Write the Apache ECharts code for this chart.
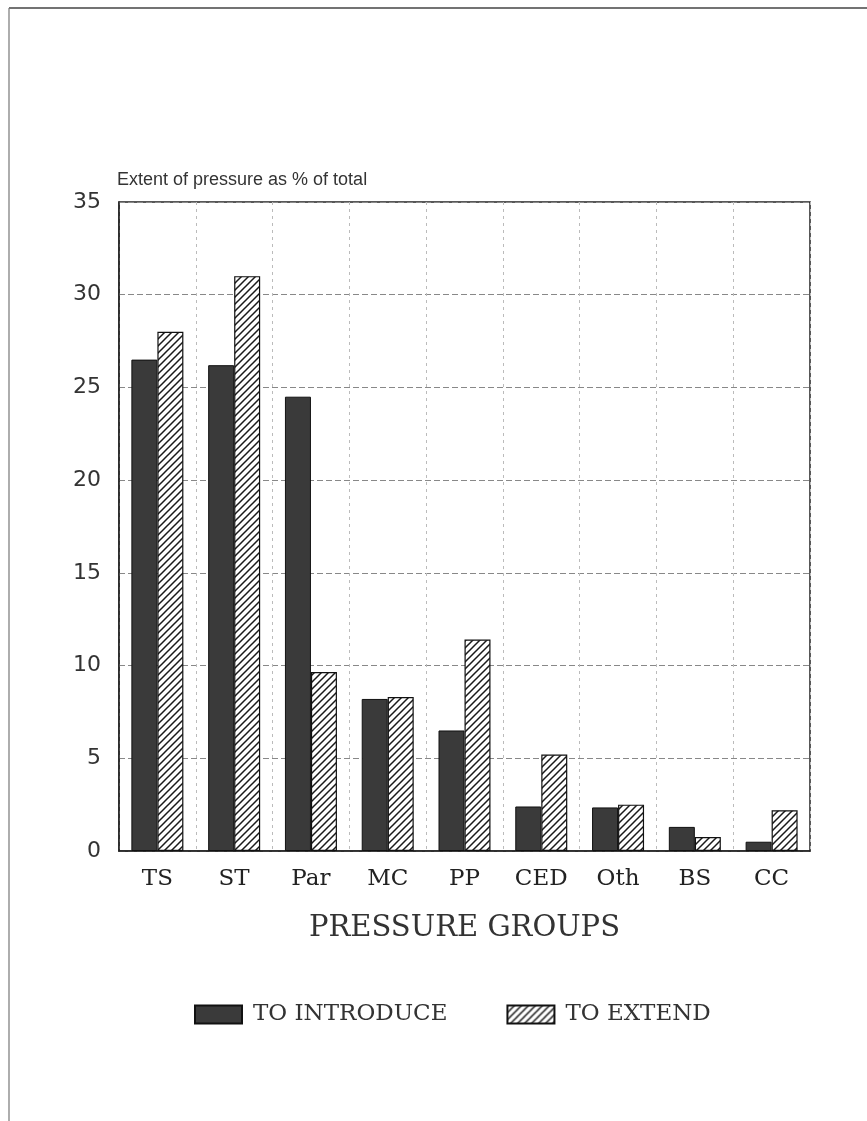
<!DOCTYPE html>
<html>
<head>
<meta charset="utf-8">
<script src="https://cdn.jsdelivr.net/npm/echarts@6/dist/echarts.min.js"></script>
<style>
html,body{margin:0;padding:0;background:#fff;}
#chart{width:867px;height:1121px;}
</style>
</head>
<body>
<div id="chart"></div>
<script>
const categories = ['TS', 'ST', 'Par', 'MC', 'PP', 'CED', 'Oth', 'BS', 'CC'];
const toIntroduce = [26.5, 26.2, 24.5, 8.2, 6.5, 2.4, 2.35, 1.3, 0.5];
const toExtend = [28.0, 31.0, 9.65, 8.3, 11.4, 5.2, 2.5, 0.75, 2.2];
const seriesNames = ['TO INTRODUCE', 'TO EXTEND'];
const yTitle = 'Extent of pressure as % of total';
const xTitle = 'PRESSURE GROUPS';

function hatch() {
  const s = 7;
  const c = document.createElement('canvas');
  c.width = s; c.height = s;
  const g = c.getContext('2d');
  g.fillStyle = '#fff';
  g.fillRect(0, 0, s, s);
  g.strokeStyle = '#1a1a1a';
  g.lineWidth = 1.5;
  g.beginPath();
  g.moveTo(-1, s + 1); g.lineTo(s + 1, -1);
  g.moveTo(-1, 1); g.lineTo(1, -1);
  g.moveTo(s - 1, s + 1); g.lineTo(s + 1, s - 1);
  g.stroke();
  return c;
}

const chart = echarts.init(document.getElementById('chart'), null, {renderer: 'canvas'});
const serif = 'DejaVu Serif';
chart.setOption({
  animation: false,
  backgroundColor: '#fff',
  grid: {left: 119, top: 202, right: 57, bottom: 270, show: true, borderColor: '#222', borderWidth: 1.5, backgroundColor: 'transparent'},
  graphic: [
    {type: 'line', shape: {x1: 9, y1: 8, x2: 867, y2: 8}, style: {stroke: '#444', lineWidth: 1.5}},
    {type: 'line', shape: {x1: 9, y1: 8, x2: 9, y2: 1121}, style: {stroke: '#777', lineWidth: 1.2}},
    {type: 'text', left: 117, top: 171, style: {text: yTitle, font: '18px "Liberation Sans"', fill: '#333'}}
  ],
  legend: {
    left: 189, top: 998, itemWidth: 47, itemHeight: 18, itemGap: 59,
    icon: 'rect',
    textStyle: {fontFamily: serif, fontSize: 23, color: '#333', padding: [0, 0, 0, 6]},
    data: seriesNames
  },
  xAxis: {
    type: 'category',
    data: categories,
    name: xTitle,
    nameLocation: 'middle',
    nameGap: 63,
    nameTextStyle: {fontFamily: serif, fontSize: 29, color: '#333'},
    axisLine: {lineStyle: {color: '#222', width: 1.5}},
    axisTick: {show: false},
    axisLabel: {fontFamily: serif, fontSize: 23, color: '#222', margin: 17},
    splitLine: {show: true, lineStyle: {color: '#bbb', type: [3, 4], width: 1}}
  },
  yAxis: {
    type: 'value',
    min: 0, max: 35, interval: 5,
    axisLine: {show: true, lineStyle: {color: '#222', width: 1.5}},
    axisTick: {show: false},
    axisLabel: {fontFamily: 'DejaVu Sans', fontSize: 22, color: '#333', margin: 18},
    splitLine: {show: true, lineStyle: {color: '#888', type: [6, 3], width: 1}}
  },
  series: [
    {
      name: seriesNames[0], type: 'bar', data: toIntroduce,
      barWidth: 26, barGap: '0%',
      itemStyle: {color: '#3a3a3a', borderColor: '#111', borderWidth: 1}
    },
    {
      name: seriesNames[1], type: 'bar', data: toExtend,
      barWidth: 26,
      itemStyle: {color: {image: hatch(), repeat: 'repeat'}, borderColor: '#111', borderWidth: 1.2}
    }
  ]
});
</script>
</body>
</html>
